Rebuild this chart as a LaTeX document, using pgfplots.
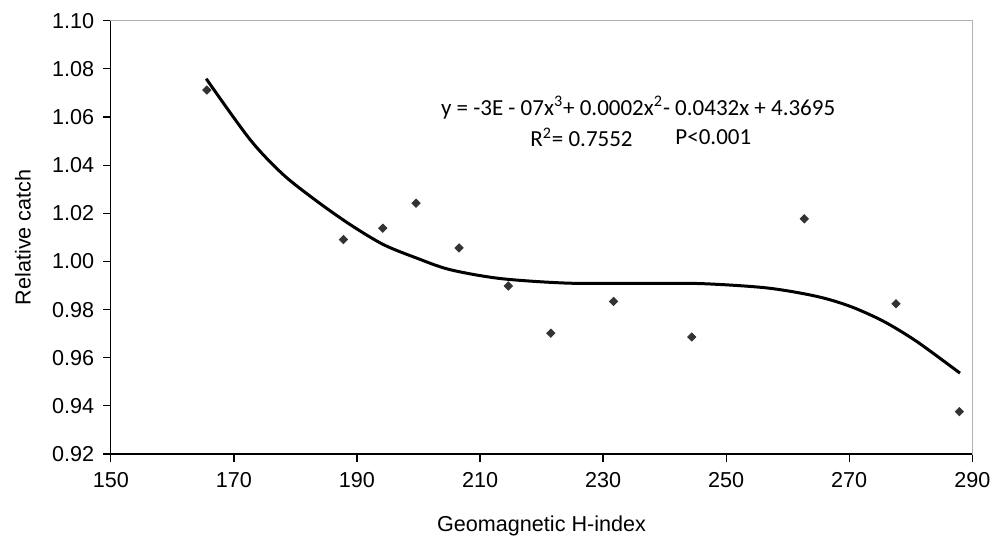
\documentclass[border=0pt]{standalone}
\usepackage{pgfplots}
\pgfplotsset{compat=1.18}
\usepackage{fontspec}
\setmainfont{Liberation Sans}
\newfontfamily\eqfont{Carlito}

\begin{document}
\begin{tikzpicture}
\begin{axis}[
  scale only axis,
  width=430.8pt, height=216.7pt,
  xmin=150, xmax=290, ymin=0.92, ymax=1.10,
  xtick={150,170,...,290},
  ytick={0.92,0.94,...,1.101},
  yticklabel style={/pgf/number format/fixed, /pgf/number format/fixed zerofill,
    /pgf/number format/precision=2, xshift=-1pt},
  /pgf/number format/assume math mode=true,
  tick label style={font=\fontsize{10.8}{12}\selectfont},
  tick align=outside,
  major tick length=3.8pt,
  xtick pos=bottom, ytick pos=left,
  tick style={black, line width=0.6pt},
  axis line style={gray!60, line width=0.6pt},
  xticklabel style={yshift=-2pt},
  xlabel={Geomagnetic H-index},
  ylabel={Relative catch},
  label style={font=\fontsize{10.8}{12}\selectfont, inner sep=0pt},
  xlabel style={at={(axis description cs:0.5,0)}, anchor=center, yshift=-36pt},
  ylabel style={at={(axis description cs:-0.102,0.5)}, anchor=center},
  clip=false,
]
% observed points
\addplot[only marks, mark=square*, mark size=1.45pt, mark options={rotate=45}, color=black!80] coordinates {
  (165.6,1.0712) (187.8,1.0091) (194.2,1.0138) (199.6,1.0242) (206.6,1.0056)
  (214.6,0.9898) (221.5,0.9702) (231.7,0.9834) (244.4,0.9686) (262.7,1.0177)
  (277.6,0.9824) (287.9,0.9376)
};
% fitted curve
\addplot[black, line width=1.5pt, smooth, no marks] coordinates {
  (165.5,1.0759) (172.6,1.0507) (178.0,1.0361) (183.5,1.0250) (188.9,1.0153)
  (194.3,1.0070) (199.7,1.0014) (205.1,0.9966) (213.3,0.9929) (224.1,0.9910)
  (234.9,0.9909) (245.8,0.9908) (256.6,0.9890) (264.7,0.9855) (270.2,0.9813)
  (275.6,0.9751) (281.0,0.9667) (288.0,0.9536)
};
\draw[black, line width=0.6pt] (rel axis cs:0,1) -- (rel axis cs:0,0) -- (rel axis cs:1,0);
\node[font=\eqfont\fontsize{11.5}{14}\selectfont, anchor=center] at (axis cs:235.7,1.0640)
  {y = -3E - 07x\textsuperscript{3}+ 0.0002x\textsuperscript{2}- 0.0432x + 4.3695};
\node[font=\eqfont\fontsize{11.5}{14}\selectfont, anchor=west, inner sep=0pt] at (axis cs:218.1,1.0515)
  {R\textsuperscript{2}= 0.7552};
\node[font=\eqfont\fontsize{11.5}{14}\selectfont, anchor=west, inner sep=0pt] at (axis cs:241.7,1.0515)
  {P<0.001};
% page margins as in the reference
\path (axis description cs:-0.1287,-0.1916) rectangle (axis description cs:1.038,1.0478);
\end{axis}
\end{tikzpicture}
\end{document}
